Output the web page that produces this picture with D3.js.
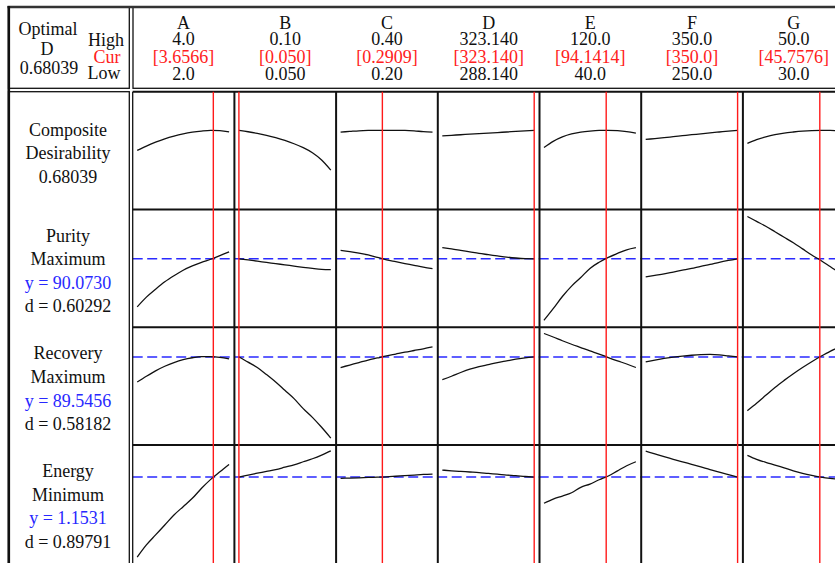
<!DOCTYPE html>
<html>
<head>
<meta charset="utf-8">
<script src="https://cdn.jsdelivr.net/npm/d3@7"></script>
<style>
  body { margin: 0; background: #fff; }
  text { font-family: "Liberation Serif", "Times New Roman", serif; font-size: 18px; fill: #111; }
</style>
</head>
<body>
<svg width="835" height="563"></svg>
<script>
// Factor settings shown in the header
const factors = ["A", "B", "C", "D", "E", "F", "G"];
const highLabels = ["4.0", "0.10", "0.40", "323.140", "120.0", "350.0", "50.0"];
const curLabels = ["[3.6566]", "[0.050]", "[0.2909]", "[323.140]", "[94.1414]", "[350.0]", "[45.7576]"];
const lowLabels = ["2.0", "0.050", "0.20", "288.140", "40.0", "250.0", "30.0"];
const lowValues = [2.0, 0.05, 0.20, 288.14, 40.0, 250.0, 30.0];
const highValues = [4.0, 0.10, 0.40, 323.14, 120.0, 350.0, 50.0];
const curValues = [3.6566, 0.050, 0.2909, 323.14, 94.1414, 350.0, 45.7576];

// Responses (rows)
const rowNames = ["Composite", "Purity", "Recovery", "Energy"];
const rowLabels = [
    ["Composite", "Desirability", "0.68039"],
    ["Purity", "Maximum", "y = 90.0730", "d = 0.60292"],
    ["Recovery", "Maximum", "y = 89.5456", "d = 0.58182"],
    ["Energy", "Minimum", "y = 1.1531", "d = 0.89791"]
];
const rowTargets = [null, 90.0730, 89.5456, 1.1531];
const rowDomains = [[0, 1], [80, 97], [70, 95], [0.5, 1.36]];

// Each curve is evaluated at these fractions of the factor's low..high range
const gridSteps = [0, 0.1, 0.2, 0.3, 0.4, 0.5, 0.6, 0.7, 0.8, 0.9, 1.0];

const compositeCurves = [
    [0.497, 0.537, 0.572, 0.603, 0.628, 0.648, 0.663, 0.673, 0.679, 0.678, 0.665],
    [0.680, 0.667, 0.652, 0.634, 0.613, 0.588, 0.558, 0.522, 0.476, 0.410, 0.318],
    [0.664, 0.670, 0.676, 0.679, 0.680, 0.680, 0.680, 0.679, 0.675, 0.668, 0.664],
    [0.630, 0.635, 0.640, 0.645, 0.650, 0.655, 0.660, 0.665, 0.670, 0.675, 0.680],
    [0.524, 0.580, 0.620, 0.647, 0.663, 0.673, 0.679, 0.680, 0.677, 0.669, 0.655],
    [0.597, 0.605, 0.613, 0.622, 0.631, 0.640, 0.648, 0.657, 0.665, 0.673, 0.680],
    [0.561, 0.595, 0.620, 0.640, 0.655, 0.665, 0.673, 0.678, 0.680, 0.679, 0.676]
];
const purityCurves = [
    [82.2, 83.8, 85.1, 86.3, 87.3, 88.2, 88.9, 89.5, 90.0, 90.6, 91.2],
    [90.07, 89.88, 89.68, 89.48, 89.28, 89.08, 88.88, 88.68, 88.5, 88.35, 88.3],
    [91.45, 91.25, 91.0, 90.7, 90.3, 89.9, 89.6, 89.3, 89.0, 88.7, 88.45],
    [91.9, 91.7, 91.45, 91.2, 90.95, 90.75, 90.55, 90.35, 90.2, 90.1, 90.07],
    [80.0, 81.9, 83.9, 85.6, 87.0, 88.5, 89.5, 90.3, 90.95, 91.55, 91.9],
    [87.1, 87.35, 87.6, 87.9, 88.2, 88.5, 88.85, 89.15, 89.5, 89.8, 90.07],
    [97.0, 96.2, 95.4, 94.5, 93.6, 92.7, 91.7, 90.7, 89.8, 88.8, 87.8]
];
const recoveryCurves = [
    [83.5, 84.9, 86.2, 87.3, 88.2, 88.9, 89.35, 89.6, 89.6, 89.45, 89.1],
    [89.55, 88.3, 87.0, 85.3, 83.5, 81.5, 79.5, 77.1, 75.0, 72.6, 70.0],
    [87.0, 87.6, 88.2, 88.8, 89.3, 89.8, 90.25, 90.7, 91.1, 91.5, 91.95],
    [84.1, 84.9, 85.8, 86.6, 87.2, 87.7, 88.2, 88.6, 89.0, 89.3, 89.55],
    [95.2, 94.35, 93.45, 92.6, 91.8, 91.0, 90.25, 89.4, 88.6, 87.85, 87.0],
    [88.35, 88.8, 89.2, 89.5, 89.75, 89.95, 90.1, 90.15, 90.05, 89.8, 89.55],
    [76.6, 78.4, 80.3, 82.2, 83.9, 85.5, 87.0, 88.4, 89.7, 90.9, 91.9]
];
const energyCurves = [
    [0.49, 0.591, 0.674, 0.756, 0.839, 0.908, 0.977, 1.06, 1.134, 1.197, 1.258],
    [1.153, 1.17, 1.185, 1.20, 1.215, 1.235, 1.255, 1.28, 1.305, 1.335, 1.37],
    [1.143, 1.145, 1.147, 1.15, 1.152, 1.155, 1.16, 1.165, 1.17, 1.175, 1.178],
    [1.211, 1.205, 1.20, 1.195, 1.19, 1.183, 1.177, 1.17, 1.165, 1.158, 1.153],
    [0.936, 0.971, 0.996, 1.023, 1.068, 1.095, 1.131, 1.162, 1.205, 1.247, 1.28],
    [1.368, 1.345, 1.322, 1.30, 1.28, 1.258, 1.237, 1.215, 1.195, 1.173, 1.153],
    [1.333, 1.30, 1.275, 1.253, 1.23, 1.205, 1.184, 1.167, 1.153, 1.142, 1.134]
];
const allCurves = [compositeCurves, purityCurves, recoveryCurves, energyCurves];

const svg = d3.select("svg");
const svgWidth = Number(svg.attr("width"));
const svgHeight = Number(svg.attr("height"));

// Layout of the grid
const plotLeft = 132.7;
const plotTop = 91.7;
const panelWidth = 101.7;
const rowHeight = 117.8;

const colScale = d3.scaleBand()
    .domain(factors)
    .range([plotLeft, plotLeft + panelWidth * factors.length]);

const rowScale = d3.scaleBand()
    .domain(rowNames)
    .range([plotTop, plotTop + rowHeight * rowNames.length]);

// One x scale per factor panel
const xScales = factors.map((f, i) => d3.scaleLinear()
    .domain([lowValues[i], highValues[i]])
    .range([colScale(f) + 4.5, colScale(f) + colScale.bandwidth() - 5.3]));

// One y scale per response row (composite row uses less padding)
const yScales = rowNames.map((r, j) => {
    const top = rowScale(r), bottom = top + rowScale.bandwidth();
    const padBottom = j === 0 ? 4.5 : 7;
    const padTop = j === 0 ? 3.5 : 7;
    return d3.scaleLinear().domain(rowDomains[j]).range([bottom - padBottom, top + padTop]);
});

// Frames
const frame = svg.append("g").attr("class", "frame");
frame.append("rect")
    .attr("x", 8.5).attr("y", 7).attr("width", 120.8).attr("height", 81.3)
    .attr("fill", "none").attr("stroke", "#111").attr("stroke-width", 1.3);
frame.append("rect")
    .attr("x", 133).attr("y", 7).attr("width", 740).attr("height", 81.3)
    .attr("fill", "none").attr("stroke", "#111").attr("stroke-width", 1.3);
frame.append("rect")
    .attr("x", 8.5).attr("y", plotTop).attr("width", 120.8).attr("height", 500)
    .attr("fill", "none").attr("stroke", "#111").attr("stroke-width", 1.3);
frame.append("line")
    .attr("x1", 7.5).attr("x2", svgWidth).attr("y1", 7).attr("y2", 7)
    .attr("stroke", "#333").attr("stroke-width", 2.5);
frame.append("line")
    .attr("x1", 8.8).attr("x2", 8.8).attr("y1", 6).attr("y2", svgHeight)
    .attr("stroke", "#111").attr("stroke-width", 2.6);

// Header: left box
const header = svg.append("g").attr("class", "header");
header.append("text").attr("x", 48).attr("y", 34.5).attr("text-anchor", "middle").text("Optimal");
header.append("text").attr("x", 47).attr("y", 55).attr("text-anchor", "middle").text("D");
header.append("text").attr("x", 49).attr("y", 74).attr("text-anchor", "middle").text("0.68039");
header.append("text").attr("x", 106).attr("y", 46).attr("text-anchor", "middle").text("High");
header.append("text").attr("x", 107).attr("y", 62.7).attr("text-anchor", "middle")
    .style("fill", "#ff2020").text("Cur");
header.append("text").attr("x", 104).attr("y", 79.3).attr("text-anchor", "middle").text("Low");

// Header: factor columns
const factorHeads = header.selectAll(".factor-head")
    .data(factors)
    .join("g")
    .attr("class", "factor-head")
    .attr("transform", f => `translate(${colScale(f) + colScale.bandwidth() / 2}, 0)`);
factorHeads.append("text").attr("y", 28.5).attr("text-anchor", "middle").text(f => f);
factorHeads.append("text").attr("y", 45.3).attr("text-anchor", "middle").text((f, i) => highLabels[i]);
factorHeads.append("text").attr("y", 62.5).attr("text-anchor", "middle")
    .style("fill", "#ff2020").text((f, i) => curLabels[i]);
factorHeads.append("text").attr("y", 79.5).attr("text-anchor", "middle").text((f, i) => lowLabels[i]);

// Row labels on the left
rowNames.forEach((r, j) => {
    const lines = rowLabels[j];
    const center = rowScale(r) + rowScale.bandwidth() / 2;
    svg.append("g").attr("class", "row-label")
        .selectAll("text")
        .data(lines)
        .join("text")
        .attr("x", 68)
        .attr("y", (d, k) => center + (k - (lines.length - 1) / 2) * 23.6 + 8.5)
        .attr("text-anchor", "middle")
        .style("fill", d => d.startsWith("y =") ? "#2828ff" : "#111")
        .text(d => d);
});

// Target (dashed) lines across each response row
const targets = svg.append("g").attr("class", "targets");
rowNames.forEach((r, j) => {
    if (rowTargets[j] === null) return;
    targets.append("line")
        .attr("x1", plotLeft).attr("x2", svgWidth)
        .attr("y1", yScales[j](rowTargets[j])).attr("y2", yScales[j](rowTargets[j]))
        .attr("stroke", "#2a2aff").attr("stroke-width", 1.6)
        .attr("stroke-dasharray", "10,4.5");
});

// Response curves for every panel
const curves = svg.append("g").attr("class", "curves");
rowNames.forEach((r, j) => {
    factors.forEach((f, i) => {
        const pts = gridSteps.map((s, k) => [
            lowValues[i] + s * (highValues[i] - lowValues[i]),
            allCurves[j][i][k]
        ]);
        const line = d3.line()
            .x(d => xScales[i](d[0]))
            .y(d => yScales[j](d[1]))
            .curve(d3.curveMonotoneX);
        curves.append("path")
            .attr("d", line(pts))
            .attr("fill", "none")
            .attr("stroke", "#111")
            .attr("stroke-width", 1.3);
    });
});

// Panel grid
const grid = svg.append("g").attr("class", "grid");
factors.forEach((f, i) => {
    const x = colScale(f);
    grid.append("line")
        .attr("x1", x).attr("x2", x).attr("y1", plotTop).attr("y2", svgHeight)
        .attr("stroke", "#111").attr("stroke-width", i === 0 ? 1.3 : 2);
});
rowNames.forEach(r => {
    const y = rowScale(r);
    grid.append("line")
        .attr("x1", plotLeft).attr("x2", svgWidth).attr("y1", y).attr("y2", y)
        .attr("stroke", "#111").attr("stroke-width", 2);
});

// Current settings (red verticals)
svg.append("g").attr("class", "current")
    .selectAll("line")
    .data(factors)
    .join("line")
    .attr("x1", (f, i) => xScales[i](curValues[i]))
    .attr("x2", (f, i) => xScales[i](curValues[i]))
    .attr("y1", plotTop)
    .attr("y2", svgHeight)
    .attr("stroke", "#ff1a1a")
    .attr("stroke-width", 1.4);
</script>
</body>
</html>
